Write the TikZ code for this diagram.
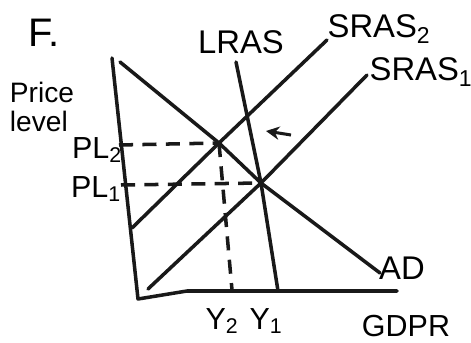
\documentclass[tikz,border=0pt]{standalone}
\usepackage{fontspec}
\setmainfont{Liberation Sans}
\usetikzlibrary{arrows.meta,positioning}

\begin{document}
\begin{tikzpicture}[
    x=0.03cm, y=-0.03cm,
    curve/.style={line width=3pt, line cap=round, line join=round, black!90},
    guide/.style={line width=3pt, black!90, dash pattern=on 12pt off 8pt},
    lab/.style={font=\fontsize{28}{30}\selectfont, inner sep=0pt},
    small/.style={font=\fontsize{24}{25}\selectfont, inner sep=0pt, align=left},
    arr/.style={-{Stealth[length=4mm,width=4mm]}, line width=2.6pt, black!90}
  ]
    \useasboundingbox (0,0) rectangle (471,343);
    % axes and curve ends
    \coordinate (ytop) at (112,58);
    \coordinate (orig) at (138,299);
    \coordinate (xbend) at (187,291);
    \coordinate (xend) at (397,291);
    \coordinate (e2) at (219,143);
    \coordinate (e1) at (261,183);
    \coordinate (ad1) at (120,62);
    \coordinate (ad2) at (380,273);
    \coordinate (lr1) at (236,62);
    \coordinate (lr2) at (278,291);
    \coordinate (sa1) at (132,228);
    \coordinate (sa2) at (327,40);
    \coordinate (sb1) at (148,289);
    \coordinate (sb2) at (367,75);
    \coordinate (pl2) at (119,145);
    \coordinate (pl1) at (121,185);
    \coordinate (y2) at (232,290);
    \coordinate (ar1) at (291,135);
    \coordinate (ar2) at (266,131);

    \node[lab, font=\fontsize{34}{36}\selectfont] (fig) at (44,33) {F.};
    \node[small] (plev) at (42,107) {Price\\level};
    \node[lab, font=\fontsize{26}{28}\selectfont] (lpl2) at (97,150) {PL\textsubscript{2}};
    \node[lab, font=\fontsize{26}{28}\selectfont] (lpl1) at (96,189) {PL\textsubscript{1}};
    \node[lab] (llras) at (241,42) {LRAS};
    \node[lab] (lsa) at (379,29) {SRAS\textsubscript{2}};
    \node[lab] (lsb) at (421,72) {SRAS\textsubscript{1}};
    \node[lab] (lad) at (402,268) {AD};
    \node[lab, font=\fontsize{26}{28}\selectfont] (ly2) at (222,321) {Y\textsubscript{2}};
    \node[lab, font=\fontsize{26}{28}\selectfont] (ly1) at (266,321) {Y\textsubscript{1}};
    \node[lab, font=\fontsize{26}{28}\selectfont] (lgdp) at (406,326) {GDPR};

    \draw[curve] (ytop) -- (orig) -- (xbend) -- (xend);
    \draw[curve] (ad1) -- (e2) -- (e1) -- (ad2);
    \draw[curve] (lr1) -- (e1) -- (lr2);
    \draw[curve] (sa1) -- (e2) -- (sa2);
    \draw[curve] (sb1) -- (e1) -- (sb2);
    \draw[guide] (pl2) -- (e2);
    \draw[guide] (pl1) -- (e1);
    \draw[guide] (e2) -- (y2);
    \draw[arr] (ar1) -- (ar2);
  \end{tikzpicture}
\end{document}
